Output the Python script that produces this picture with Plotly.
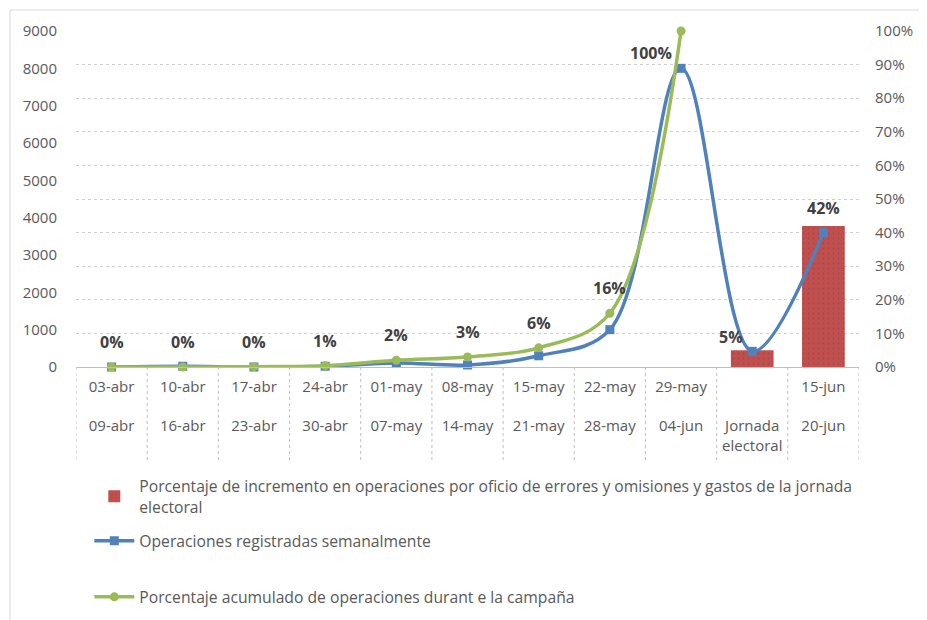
import plotly.graph_objects as go

cat_top = ["03-abr", "10-abr", "17-abr", "24-abr", "01-may", "08-may", "15-may", "22-may", "29-may", "", "15-jun"]
cat_bot = ["09-abr", "16-abr", "23-abr", "30-abr", "07-may", "14-may", "21-may", "28-may", "04-jun", "Jornada<br>electoral", "20-jun"]
categories = ["c%d" % i for i in range(len(cat_top))]
ticktext = [t + "<br> <br>" + b for t, b in zip(cat_top, cat_bot)]

ops_weekly = [0, 20, 0, 20, 110, 55, 300, 1000, 8000, 420, 3600]
cum_pct = [0.0, 0.0, 0.001, 0.004, 0.02, 0.03, 0.057, 0.16, 1.0]
cum_labels = ["0%", "0%", "0%", "1%", "2%", "3%", "6%", "16%", "100%"]
bar_pct = [None] * 9 + [0.05, 0.42]
bar_labels = [None] * 9 + ["5%", "42%"]

name_bar = "Porcentaje de incremento en operaciones por oficio de errores y omisiones y gastos de la jornada<br>electoral"
name_ops = "Operaciones registradas semanalmente"
name_cum = "Porcentaje acumulado de operaciones durant e la campaña"

BLUE = "#4F81BD"
RED = "#C0504D"
GREEN = "#9BBB59"
GRAY = "#595959"
FONT = "Open Sans"

fig = go.Figure()
# bars on base axis (percent, right side)
fig.add_trace(go.Bar(
    x=categories, y=bar_pct, name=name_bar, yaxis="y", width=0.6,
    marker=dict(color=RED, line=dict(width=0),
                pattern=dict(shape=".", fgcolor="#8E3A52", bgcolor=RED, size=5, solidity=0.1)),
    legend="legend", cliponaxis=False,
))
# weekly operations on the left axis (overlay)
fig.add_trace(go.Scatter(
    x=categories, y=ops_weekly, name=name_ops, mode="lines+markers", yaxis="y2",
    line=dict(color=BLUE, width=3.5, shape="spline", smoothing=1),
    marker=dict(symbol="square", size=9, color=BLUE),
    legend="legend2", cliponaxis=False,
))
# cumulative percent on hidden percent overlay
fig.add_trace(go.Scatter(
    x=categories[:len(cum_pct)], y=cum_pct, name=name_cum, mode="lines+markers", yaxis="y3",
    line=dict(color=GREEN, width=3.5, shape="spline", smoothing=1),
    marker=dict(symbol="circle", size=9, color=GREEN),
    legend="legend3", cliponaxis=False,
))

lab_font = dict(family=FONT, size=16, color="#404040")
annotations = []
for i, (v, t) in enumerate(zip(cum_pct, cum_labels)):
    if t == "100%":
        annotations.append(dict(x=categories[i], y=v, yref="y3", text="<b>" + t + "</b>", showarrow=False,
                                xshift=-30, yshift=-22, font=lab_font))
    else:
        annotations.append(dict(x=categories[i], y=v, yref="y3", text="<b>" + t + "</b>", showarrow=False,
                                yshift=25, font=lab_font))
for i, (v, t) in enumerate(zip(bar_pct, bar_labels)):
    if v is None:
        continue
    xs = -21 if t == "5%" else 0
    ys = 13 if t == "5%" else 18
    annotations.append(dict(x=categories[i], y=v, yref="y", text="<b>" + t + "</b>", showarrow=False,
                            xshift=xs, yshift=ys, font=lab_font))

shapes = []
for i in range(len(categories) + 1):
    shapes.append(dict(type="line", xref="x", yref="paper", x0=i - 0.5, x1=i - 0.5, y0=0, y1=-0.283,
                       line=dict(color="#BFBFBF", width=1, dash="dot")))
# chart frame: top and left edges only
shapes.append(dict(type="line", xref="paper", yref="paper", x0=-0.0843, x1=1.2, y0=1.0625, y1=1.0625,
                   line=dict(color="#D9D9D9", width=1), layer="below"))
shapes.append(dict(type="line", xref="paper", yref="paper", x0=-0.0843, x1=-0.0843, y0=1.0625, y1=-0.80,
                   line=dict(color="#D9D9D9", width=1), layer="below"))

legend_common = dict(bgcolor="rgba(0,0,0,0)", font=dict(family=FONT, size=15.7, color=GRAY),
                     xanchor="left", yanchor="middle", itemwidth=40)
tick_font = dict(family=FONT, size=15, color=GRAY)
fig.update_layout(
    # page body adds an 8px offset; size and margins compensate
    width=927, height=620,
    margin=dict(l=68, r=76, t=23, b=261, autoexpand=False),
    paper_bgcolor="white", plot_bgcolor="white",
    font=dict(family=FONT, size=15, color=GRAY),
    showlegend=True,
    xaxis=dict(type="category", categoryorder="array", categoryarray=categories,
               tickvals=categories, ticktext=ticktext, ticks="", showgrid=False,
               showline=True, linecolor="#BFBFBF", linewidth=1, ticklabelstandoff=6,
               tickfont=tick_font, range=[-0.5, 10.5]),
    yaxis=dict(range=[0, 1], dtick=0.1, tickformat=".0%", side="right",
               showgrid=True, gridcolor="#D0D0D0", griddash="dot",
               zeroline=False, showline=False, ticks="", tickfont=tick_font, ticklabelstandoff=15),
    yaxis2=dict(range=[0, 9000], dtick=1000, overlaying="y", side="left", showgrid=False,
                zeroline=False, showline=False, ticks="", tickfont=tick_font, ticklabelstandoff=18),
    yaxis3=dict(range=[0, 1], overlaying="y", side="right", visible=False, showgrid=False),
    legend=dict(x=0.017, y=-0.385, **legend_common),
    legend2=dict(x=0.017, y=-0.518, **legend_common),
    legend3=dict(x=0.017, y=-0.685, **legend_common),
    annotations=annotations,
    shapes=shapes,
)

fig.write_html("out.html")
